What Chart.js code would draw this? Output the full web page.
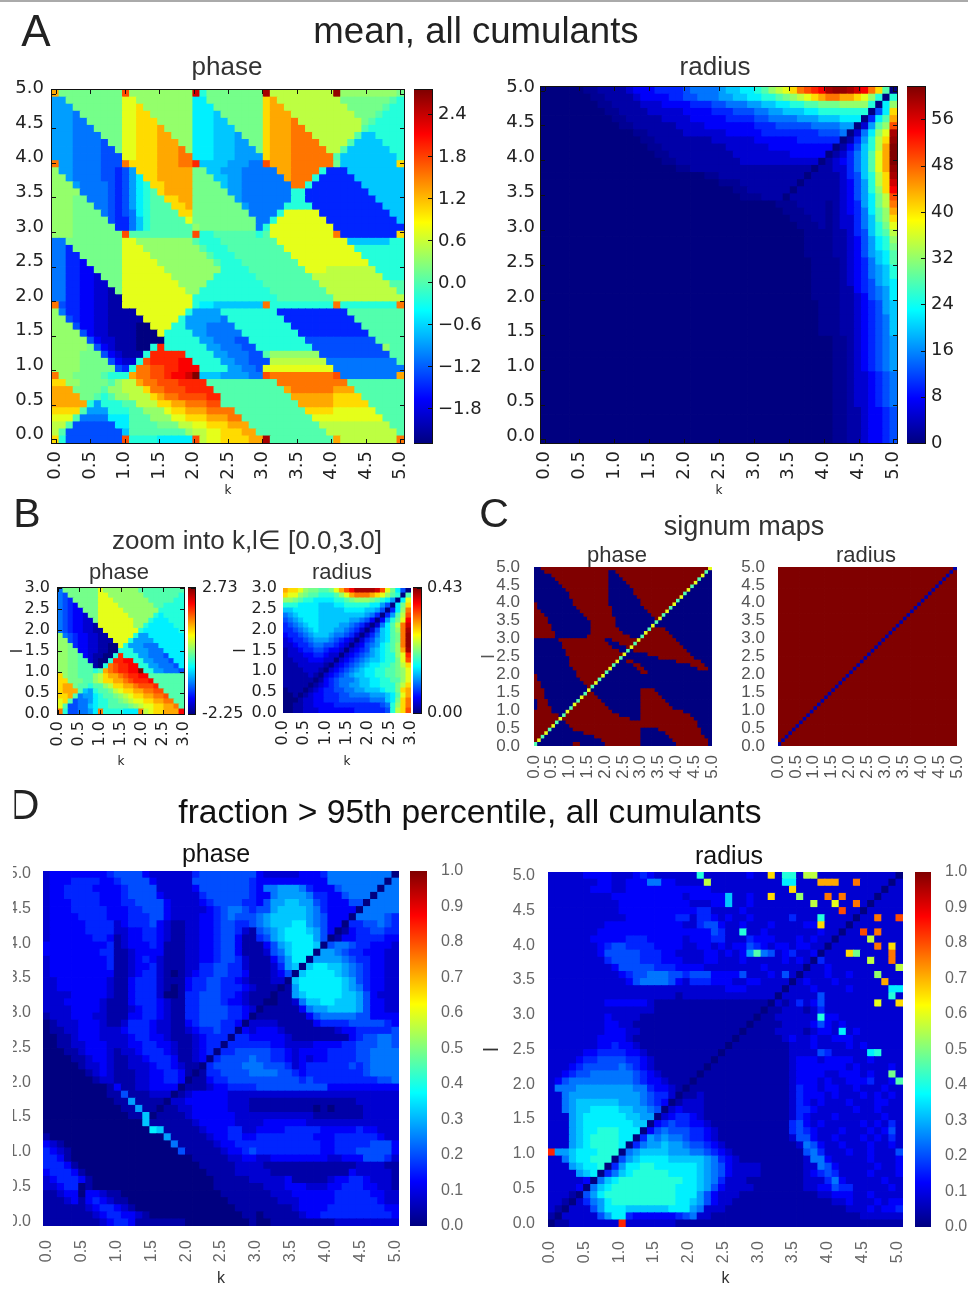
<!DOCTYPE html>
<html>
<head>
<meta charset="utf-8">
<title>mean and fraction maps</title>
<script src="https://cdn.jsdelivr.net/npm/chart.js@4"></script>
<style>
    html, body { margin: 0; padding: 0; background: #fff; overflow: hidden; }
    #page { position: relative; width: 968px; height: 1290px; overflow: hidden; filter: blur(0.45px); }
    #page canvas { position: absolute; }
    .txt { position: absolute; line-height: 1; white-space: nowrap; font-family: "Liberation Sans", sans-serif; color: #222; }
    #topline { position: absolute; left: 0; top: 0; width: 968px; height: 2px; background: #aaa; }
</style>
</head>
<body>
<div id="page"><div id="topline"></div></div>
<script>
// every row is one line of cells from l=max down to l=0, one letter per cell, a = lowest .. z = highest
const meanPhaseRows = [
"rmmmmmmmmm tnnnnnnnnn wkmmmmmmmm xooooooooo ynnnnnnnnm",
"hhmmmmmmmm ppnnnnnnnn jjmmmmmmmm qroooooooo ommmmmmmlk",
"hhhmmmmmmm ppqnnnnnnn jjjmmmmmmm qrrooooooo oommmmmlkk",
"hhhgmmmmmm ppqqnnnnnn jjjimmmmmm qrrroooooo ooommmlkkk",
"hhhggmmmmm ppqqqnnnnn jjjiimmmmm qrrrsooooo oooomlkkkk",
"hhhgggmmmm ppqqqrnnnn jjjiiimmmm qrrrssoooo oooolkkkkk",
"hhhggggmmm ppqqqrrnnn jjjiiihmmm qrrrsssooo oooliikkkk",
"hhhggggfmm ppqqqrrrnn jjjiiihhmm qrrrssssoo ooliiiikkk",
"hhhggggffm ppqqqrrrsn jjjiiihhhm qrrrssssso oliiiiiikk",
"hhhggggfff ppqqqrrrss jjjiiihhhh qrrrssssss liiiiiiiik",
"shhggggfff sqqqqrrrss uiiiihhhgg trrrssssss miiiiiiiiq",
"nhhggggffe fhqqqrrrrr mmiihhhggg ggrrsssske eeiiiiiiii",
"nnhggggffe fhjqqrrrrr mmmiihhggg gggrssskee eeeiiiiiii",
"nnnhggggfe fhjkqqrrrr mmmmihhggg ggggsskeee eeeeiiiiii",
"nnnnggggfe fhjklqrrrr mmmmmhhggg ggggkkeeee eeeeeiiiii",
"nnnmmgggfe fhjkllqqrr mmmmmmhggg ggggkkeeee eeeeeeiiii",
"nnnmmmggfe fhjklllqqr mmmmmmmhgg gggkkkkeee eeeeeeeiii",
"nnnmmmmgfe fgjkllllqq mmmmmmmmgg ggkpppppee eeeeeeeeii",
"nnnmmmmmfe egiklllllp mmmmmmmmmg gkpppppppe eeeeeeeeei",
"nnnmmmmmme egikllllll nmmmmmmmmg kppppppppp eeeeeeeeee",
"nnnmmmmmmm tlllllllll tkkllllllk lppppppppp seeeeeeeeq",
"ggmmmmmmmm ppnnnnnnnn lkkkllllll llpppppppp ppiiiiiikk",
"ggemmmmmmm pppnnnnnnn nlkkklllll lllppppppp pppkkkkkkk",
"ggeemmmmmm ppppnnnnnn nnlkkkllll llllpppppp ppppkkkkkk",
"ggeedmmmmm pppppnnnnn nnnlkkklll lllllppppp pppppkkkkk",
"ggeeddmmmm ppppppnnnn nnnnkkkkll llllllpppo ooooookkkk",
"ggeeddcmmm pppppppnnn nnnkkkkkkl lllllllooo oooooookkk",
"ggeeddccmm ppppppppnn nnkkkkkkkk lllllllloo ooooooooll",
"ggeeddccbm pppppppppn nkkkkkkkkk kllllllllo oooooooool",
"ggeeddccbb pppppppppp kkkkkkkkkk kkllllllll oooooooooo",
"sfeeddccbb pppppppppp kjjiiiiiii skkkkkkkkk skkkkkkkks",
"ngeeddccbb bbpppppppk hhhhkkkkkk kkeeeeeeee eellllllll",
"nnfeddccbb bbbpppppkh hhhhgkkkkk kkkeeeeeee eeelllllll",
"nnnfddccbb bbaapppkkh hhggggkkkk kkkkeeeeee eeeellllll",
"nnnnfdccbb bbaaapkkkk hhgggggkkk kkkkkeeeee eeeeelllll",
"nnnnnfdccb bbaaaakkkk khhgggffkk kkkkkkffff ffffffllll",
"nnnnnmfdcb bbaakukkkk kkhhgggffk kkkkkkkfff fffffffnll",
"nnnnmmmfdc bbbkuuuuuk kkkhhgggff lnnnnnnnff ffffffffll",
"nnnnmmmmfd ccktuuuuvv kkkkhhggff foooooooog gggggggggl",
"nnnnmmmmmf ekssttuuvv vkkkkhhggf pppppppppp gggggggggg",
"snnmmmmlkk krssttuvvw ziiihhhhgg tsssssssss tggggggggr",
"qqnnmmmmln oorsstttuu uullllllll llssssssss ssllllllll",
"rrrmmmmlnn oooqsstttu uuulllllll lllrssssss rrrlllllll",
"rrrrmmlkln noooqrsstt ttuullllll llllrrrrrr qqqqllllll",
"rrrrrkhkkk lloooqqrrs ssttllllll lllllrrrrr qqqqqlllll",
"qqqqlhhhkk kllnnnpqqr rrssssllll llllllqqqq ppppppllll",
"ppplggggjj jlllnnnppq qqrrrsslll lllllllppp ppppppplll",
"oolffffffj jllllmmmoo ppqqqrrrll lllllllloo ooooooooll",
"olffffffff illlllllln ooppqqqrrl lllllllllo oooooooool",
"qkffffffff tkkkkjjjjj toppqqqqrr xlllllllll roooooooos"
];

const meanRadiusRows = [
"aaaaaaAAbb bbcdddeeee fgggghiijj klnopqstuv xyyxwvsqla",
"aaaaaaaAAb bbbcddddee ffggghhiij jkklmnopqr ssrrqpnkak",
"aaaaaaaaAA bbbbcccddd deeeffgggh hiijjkkllm mmnnnnkajn",
"aaaaaaaaaA Abbbbccccc ddddeeefff gghhiiijjk kkkkkkafjq",
"aaaaaaaaaa AAbbbbbccc cdddddeeee ffgggghhhi iijjjaejlr",
"aaaaaaaaaa aAAbbbbbbc cccddddddd eeefffffgg gghhachlnt",
"aaaaaaaaaa aaaAAbbbbb ccccccdddd deeeeeeeef ffgacgjnpx",
"aaaaaaaaaa aaaaAAbbbb bbbbcccccc ddddddeeee eeabehkoqy",
"aaaaaaaaaa aaaaaAAbbb bbbbbbcccc ccdddddddd dabdfikorz",
"aaaaaaaaaa aaaaaaAAbb bbbbbbbccc cccccddddd abcegilprz",
"aaaaaaaaaa aaaaaaaAAb bbbbbbbbcc ccccccccca bcdegilprz",
"aaaaaaaaaa aaaaaaaaaA Abbbbbbbbb bbbbbbbbab bccegilpry",
"aaaaaaaaaa aaaaaaaaaa aaaAAbbbbb bbbbbbbabb bbcefikoqx",
"aaaaaaaaaa aaaaaaaaaa aaaaaAAAbb bbbbbbabbb bbcdfhkoqw",
"aaaaaaaaaa aaaaaaaaaa aaaaaaaAAb bbbbbabbbb bbcdfhknqv",
"aaaaaaaaaa aaaaaaaaaa aaaaaaaaAA Abbbabbbbb bbcdfhjmot",
"aaaaaaaaaa aaaaaaaaaa aaaaaaaaaa aaaAAAbbbb Abcdehjmos",
"aaaaaaaaaa aaaaaaaaaa aaaaaaaaaa aaaaAAAbbb Abcdegjlnr",
"aaaaaaaaaa aaaaaaaaaa aaaaaaaaaa aaaaaAAAbb Abccegilnq",
"aaaaaaaaaa aaaaaaaaaa aaaaaaaaaa aaaaaaAAAb Abccegikmp",
"aaaaaaaaaa aaaaaaaaaa aaaaaaaaaa aaaaaaaAAA Abbcefiklo",
"aaaaaaaaaa aaaaaaaaaa aaaaaaaaaa aaaaaaaAAA Abbcdfhjkn",
"aaaaaaaaaa aaaaaaaaaa aaaaaaaaaa aaaaaaaAAA Abbcdfhjkm",
"aaaaaaaaaa aaaaaaaaaa aaaaaaaaaa aaaaaaaAAA Abbcdfhijl",
"aaaaaaaaaa aaaaaaaaaa aaaaaaaaaa aaaaaaaaAA Abcdegijl".replace("Abcdegijl", "AAbcdegijl"),
"aaaaaaaaaa aaaaaaaaaa aaaaaaaaaa aaaaaaaaAA AAbcdeghik",
"aaaaaaaaaa aaaaaaaaaa aaaaaaaaaa aaaaaaaaAA AAbcdeghik",
"aaaaaaaaaa aaaaaaaaaa aaaaaaaaaa aaaaaaaaAA AAbcdefhij",
"aaaaaaaaaa aaaaaaaaaa aaaaaaaaaa aaaaaaaaAA AAbbdefghj",
"aaaaaaaaaa aaaaaaaaaa aaaaaaaaaa aaaaaaaaAA AAbbcdfghj",
"aaaaaaaaaa aaaaaaaaaa aaaaaaaaaa aaaaaaaaaA AAbbcdefhi",
"aaaaaaaaaa aaaaaaaaaa aaaaaaaaaa aaaaaaaaaA AAbbcdefhi",
"aaaaaaaaaa aaaaaaaaaa aaaaaaaaaa aaaaaaaaaA AAbbcdefgi",
"aaaaaaaaaa aaaaaaaaaa aaaaaaaaaa aaaaaaaaaA AAbbcdefgi",
"aaaaaaaaaa aaaaaaaaaa aaaaaaaaaa aaaaaaaaaA AAbbcdefgi",
"aaaaaaaaaa aaaaaaaaaa aaaaaaaaaa aaaaaaaaaa aAAbcdefgh",
"aaaaaaaaaa aaaaaaaaaa aaaaaaaaaa aaaaaaaaaa aAAbcdefgh",
"aaaaaaaaaa aaaaaaaaaa aaaaaaaaaa aaaaaaaaaa aAAbcdefgh",
"aaaaaaaaaa aaaaaaaaaa aaaaaaaaaa aaaaaaaaaa aAAbcdefgh",
"aaaaaaaaaa aaaaaaaaaa aaaaaaaaaa aaaaaaaaaa aAAbcdefgh",
"aaaaaaaaaa aaaaaaaaaa aaaaaaaaaa aaaaaaaaaa aAAbccdefg",
"aaaaaaaaaa aaaaaaaaaa aaaaaaaaaa aaaaaaaaaa aAAbccdefg",
"aaaaaaaaaa aaaaaaaaaa aaaaaaaaaa aaaaaaaaaa aAAbccdefg",
"aaaaaaaaaa aaaaaaaaaa aaaaaaaaaa aaaaaaaaaa aAAbccdefg",
"aaaaaaaaaa aaaaaaaaaa aaaaaaaaaa aaaaaaaaaa aAAbccdefg",
"aaaaaaaaaa aaaaaaaaaa aaaaaaaaaa aaaaaaaaaa aAAbbcddef",
"aaaaaaaaaa aaaaaaaaaa aaaaaaaaaa aaaaaaaaaa aAAbbcddef",
"aaaaaaaaaa aaaaaaaaaa aaaaaaaaaa aaaaaaaaaa aAAbbcddef",
"aaaaaaaaaa aaaaaaaaaa aaaaaaaaaa aaaaaaaaaa aAAbbcddef",
"aaaaaaaaaa aaaaaaaaaa aaaaaaaaaa aaaaaaaaaa aAAbbcddef"
];

const zoomPhaseRows = [
"gmmmmmmmpnnnnnnnlllllllll",
"gfmmmmmmppnnnnnnnlllllllk",
"gfemmmmmpppnnnnnnnlllllkk",
"gfedmmmmppppnnnnnnnllkkkk",
"gfeddmmmpppppnnnnnnnkkkkk",
"gfeddcmmppppppnnnnnkjkkkk",
"gfeddccmpppppppnnnkjjjkkk",
"gfeddccbpppppppnnkjjjjjkk",
"gfeddccbbpppppppkjjjjjjjk",
"ngfeddccbbpppppkhhjjjjjjj",
"nnfeddccbbbpppkhhhhjjjjjj",
"nnmeddccbbaapkhhhgggjjjjj",
"nnmmddccbbaakkkhhhgggjjjj",
"nnmmldcbbaakukkkhhgggfjjj",
"nnmmllcbaakuuvvkkhhgggfjj",
"nnmmlllbakstuuvvkkhhgggfj",
"nnmmlllklrstuuvvzkkhhgggf",
"qnmmlllnoqrrstuuvvlllllll",
"qqmmmllnoqqrrstuuuvllllll",
"qrrmllkllnoqqrrstttulllll",
"qrrrlihkllmopqqrrssttllll",
"qqrlghhjkllmnopqqrrsstlll",
"pqlfgghjkkllmnoppqqrrssll",
"plffggijkkllllmnoppqqrrsl",
"skffgghjskkkkjjjsopqqrrrv"
];

const zoomRadiusRows = [
"rqqpnmmllmprtvxxxxwtpmjfa",
"qppnmllkkklnprsssrqpnlkal",
"nnmlkkjjjjkklmnnnmlkjhajp",
"kkkjjjjiiijjkkkkkjjhfajmq",
"iijjjjjiiiiijjjjiihfaejns",
"ghijjjjiiiiiiiiihgeaehlot",
"fghijjjiiiiiihhgfdadhkmpv",
"efghijjiiiihhgfecacgjlosw",
"eefghijiiihhgfecacfijlnsx",
"deefghiiihggfecacegijlmsy",
"cdeefghhhgfedcacefhijlmsy",
"ccdeefggffedcacdfghjklnsy",
"bccdeeffeddcacdefhijklnrx",
"bcccddeedccacdefghijkknpu",
"bbcccdddccacdefghiijkkmpt",
"bbbcccccbacdefghijjkklmoq",
"bbbbcccbacdefghijjkkllmnp",
"bbbbbcbacdefghiijjkkllmnp",
"bbbbbbabdefggghiijjkkllnp",
"bbbbbabcdefgghhiijjkkkmoq",
"abbbabcdeeffgghhiiijkkmqr",
"aababcddeeeffgggghhhijlpr",
"aaabccddeeeffffffgggijmqs",
"aabbccddddeeeeeeeeefgknqs",
"aabbcccdddddddeeeeeefkoqt"
];

const signPhaseRows = [
"aazzzzzzzz zzzzzzzzzz zzzzzzzzzz zzzzzzzzzz zzzzzzzzzp",
"aaazzzzzzz zzzzzzzzzz zaazzzzzzz zzzzzzzzzz zzzzzzzzla",
"aaaaazzzzz zzzzzzzzzz zaaazzzzzz zzzzzzzzzz zzzzzzzpaa",
"aaaaaazzzz zzzzzzzzzz zaaaazzzzz zzzzzzzzzz zzzzzzlaaa",
"aaaaaaazzz zzzzzzzzzz zaaaaazzzz zzzzzzzzzz zzzzzpaaaa",
"aaaaaaaazz zzzzzzzzzz zaaaaaazzz zzzzzzzzzz zzzzlaaaaa",
"aaaaaaaaaz zzzzzzzzzz zaaaaaaazz zzzzzzzzzz zzzpaaaaaa",
"aaaaaaaaaa zzzzzzzzzz zaaaaaaazz zzzzzzzzzz zzlaaaaaaa",
"aaaaaaaaaa zzzzzzzzzz zaaaaaaaaz zzzzzzzzzz zpaaaaaaaa",
"aaaaaaaaaa azzzzzzzzz zaaaaaaaaa zzzzzzzzzz laaaaaaaaa",
"zaaaaaaaaa azzzzzzzzz zaaaaaaaaa zzzzzzzzzp aaaaaaaaaa",
"zaaaaaaaaa aazzzzzzzz zzaaaaaaaa azzzzzzzla aaaaaaaaaa",
"zzaaaaaaaa aaazzzzzzz zzaaaaaaaa aazzzzzpaa aaaaaaaaaa",
"zzzaaaaaaa aaaazzzzzz zzaaaaaaaa aaazzzlaaa aaaaaaaaaa",
"zzzzaaaaaa aaaaazzzzz zzzaaaaaaa aaaazpaaaa aaaaaaaaaa",
"zzzzaaaaaa aaaaaazzzz zzzaaaaaaa aaaalaaaaa aaaaaaaaaa",
"zzzzzaaaaa aaaaaazzzz zzzaaaaaaa aaapaaaaaa aaaaaaaaaa",
"zzzzzaaaaa aaaaaazzzz zzzzaaaaaa aalzzzzaaa aaaaaaaaaa",
"zzzzzzaaaa aaaaaazzzz zzzzzaaaaa apzzzzzzaa aaaaaaaaaa",
"zzzzzzaaaa aaaaazzzzz zzzzzzzaaa lzzzzzzzza aaaaaaaaaa",
"aaaaaaazzz zzzzzzzzzz aazzzzzzzp zzzzzzzzzz aaaaaaaaaa",
"aaaaaaaazz zzzzzzzzzz zaaazzzzlz zzzzzzzzzz zaaaaaaaaa",
"aaaaaaaazz zzzzzzzzzz zzaaaazpzz zzzzzzzzzz zzaaaaaaaa",
"aaaaaaaaaz zzzzzzzzzz zzzzaalazz zzzzzzzzzz zzzaaaaaaa",
"aaaaaaaaaz zzzzzzzzzz zzzzzpaaaa aazzzzzzzz zzzzaaaaaa",
"aaaaaaaaaa zzzzzzzzzz zzzzlaaaaa aaaaazzzzz zzzzzaaaaa",
"aaaaaaaaaa zzzzzzzzzz zzzpaazzaa aaaaaaaaaa zzzzzzzaaa",
"aaaaaaaaaa zzzzzzzzzz zzlaaaaazz aaaaaaaaaa aaaazzzzaa",
"aaaaaaaaaa azzzzzzzzz zpaaaaaaaz zaaaaaaaaa aaaaaazzza",
"aaaaaaaaaa aazzzzzzzz laaaaaaaaa zzaaaaaaaa aaaaaaaaaa",
"zaaaaaaaaa aazzzzzzzp aaaaaaaaaa aaaaaaaaaa aaaaaaaaaa",
"zaaaaaaaaa aaazzzzzla aaaaaaaaaa aaaaaaaaaa aaaaaaaaaa",
"zzaaaaaaaa aaaazzzpaa aaaaaaaaaa aaaaaaaaaa aaaaaaaaaa",
"zzaaaaaaaa aaaaazlaaa aaaaaaaaaa aaaaaaaaaa aaaaaaaaaa",
"zzzaaaaaaa aaaaapaaaa aaaaaaaaaa zzzzaaaaaa aaaaaaaaaa",
"zzzaaaaaaa aaaalzzaaa aaaaaaaaaa zzzzzaaaaa aaaaaaaaaa",
"zzzaaaaaaa aaapzzzzaa aaaaaaaaaa zzzzzzaaaa aaaaaaaaaa",
"azzzaaaaaa aalzzzzzza aaaaaaaaaa zzzzzzzaaa aaaaaaaaaa",
"azzzaaaaaa apzzzzzzzz aaaaaaaaaa zzzzzzzzaa aaaaaaaaaa",
"azzzzaaaaa lzzzzzzzzz zaaaaaaaaa zzzzzzzzza aaaaaaaaaa",
"zzzzzaaaap zzzzzzzzzz zzaaaaaaaa zzzzzzzzzz zzaaaaaaaa",
"zzzzzzzalz zzzzzzzzzz zzzzaaaaaa zzzzzzzzzz zzzzaaaaaa",
"zzzzzzzpzz zzzzzzzzzz zzzzzzzaaa zzzzzzzzzz zzzzzaaaaa",
"zzzzzzlaaz zzzzzzzzzz zzzzzzzzzz zzzzzzzzzz zzzzzzaaaa",
"zzzzzpaaaa zzzzzzzzzz zzzzzzzzzz zzzzzzzzzz zzzzzzaaaa",
"zzzzlaaaaa azzzzzzzzz zzzzzzzzzz aaaaazzzzz zzzzzzzaaa",
"zzzpaaaaaa aaaazzzzzz zzzzzzzzzz aaaaaaazzz zzzzzzzaaa",
"zzlaaaaaaa aaaaaaazzz zzzzzzzzzz aaaaaaaazz zzzzzzzzaa",
"zpaaaaaaaa aaaaaaaaaz zzzzzzzzzz aaaaaaaaaz zzzzzzzzza",
"laaaaaaaaa azzaaaaaaa zzzzzzzzzz aaaaaaaaaa zzzzzzzzza"
];

const signRadiusRows = [
"zzzzzzzzzz zzzzzzzzzz zzzzzzzzzz zzzzzzzzzz zzzzzzzzzb",
"zzzzzzzzzz zzzzzzzzzz zzzzzzzzzz zzzzzzzzzz zzzzzzzzbz",
"zzzzzzzzzz zzzzzzzzzz zzzzzzzzzz zzzzzzzzzz zzzzzzzbzz",
"zzzzzzzzzz zzzzzzzzzz zzzzzzzzzz zzzzzzzzzz zzzzzzbzzz",
"zzzzzzzzzz zzzzzzzzzz zzzzzzzzzz zzzzzzzzzz zzzzzbzzzz",
"zzzzzzzzzz zzzzzzzzzz zzzzzzzzzz zzzzzzzzzz zzzzbzzzzz",
"zzzzzzzzzz zzzzzzzzzz zzzzzzzzzz zzzzzzzzzz zzzbzzzzzz",
"zzzzzzzzzz zzzzzzzzzz zzzzzzzzzz zzzzzzzzzz zzbzzzzzzz",
"zzzzzzzzzz zzzzzzzzzz zzzzzzzzzz zzzzzzzzzz zbzzzzzzzz",
"zzzzzzzzzz zzzzzzzzzz zzzzzzzzzz zzzzzzzzzz bzzzzzzzzz",
"zzzzzzzzzz zzzzzzzzzz zzzzzzzzzz zzzzzzzzzb zzzzzzzzzz",
"zzzzzzzzzz zzzzzzzzzz zzzzzzzzzz zzzzzzzzbz zzzzzzzzzz",
"zzzzzzzzzz zzzzzzzzzz zzzzzzzzzz zzzzzzzbzz zzzzzzzzzz",
"zzzzzzzzzz zzzzzzzzzz zzzzzzzzzz zzzzzzbzzz zzzzzzzzzz",
"zzzzzzzzzz zzzzzzzzzz zzzzzzzzzz zzzzzbzzzz zzzzzzzzzz",
"zzzzzzzzzz zzzzzzzzzz zzzzzzzzzz zzzzbzzzzz zzzzzzzzzz",
"zzzzzzzzzz zzzzzzzzzz zzzzzzzzzz zzzbzzzzzz zzzzzzzzzz",
"zzzzzzzzzz zzzzzzzzzz zzzzzzzzzz zzbzzzzzzz zzzzzzzzzz",
"zzzzzzzzzz zzzzzzzzzz zzzzzzzzzz zbzzzzzzzz zzzzzzzzzz",
"zzzzzzzzzz zzzzzzzzzz zzzzzzzzzz bzzzzzzzzz zzzzzzzzzz",
"zzzzzzzzzz zzzzzzzzzz zzzzzzzzzb zzzzzzzzzz zzzzzzzzzz",
"zzzzzzzzzz zzzzzzzzzz zzzzzzzzbz zzzzzzzzzz zzzzzzzzzz",
"zzzzzzzzzz zzzzzzzzzz zzzzzzzbzz zzzzzzzzzz zzzzzzzzzz",
"zzzzzzzzzz zzzzzzzzzz zzzzzzbzzz zzzzzzzzzz zzzzzzzzzz",
"zzzzzzzzzz zzzzzzzzzz zzzzzbzzzz zzzzzzzzzz zzzzzzzzzz",
"zzzzzzzzzz zzzzzzzzzz zzzzbzzzzz zzzzzzzzzz zzzzzzzzzz",
"zzzzzzzzzz zzzzzzzzzz zzzbzzzzzz zzzzzzzzzz zzzzzzzzzz",
"zzzzzzzzzz zzzzzzzzzz zzbzzzzzzz zzzzzzzzzz zzzzzzzzzz",
"zzzzzzzzzz zzzzzzzzzz zbzzzzzzzz zzzzzzzzzz zzzzzzzzzz",
"zzzzzzzzzz zzzzzzzzzz bzzzzzzzzz zzzzzzzzzz zzzzzzzzzz",
"zzzzzzzzzz zzzzzzzzzb zzzzzzzzzz zzzzzzzzzz zzzzzzzzzz",
"zzzzzzzzzz zzzzzzzzbz zzzzzzzzzz zzzzzzzzzz zzzzzzzzzz",
"zzzzzzzzzz zzzzzzzbzz zzzzzzzzzz zzzzzzzzzz zzzzzzzzzz",
"zzzzzzzzzz zzzzzzbzzz zzzzzzzzzz zzzzzzzzzz zzzzzzzzzz",
"zzzzzzzzzz zzzzzbzzzz zzzzzzzzzz zzzzzzzzzz zzzzzzzzzz",
"zzzzzzzzzz zzzzbzzzzz zzzzzzzzzz zzzzzzzzzz zzzzzzzzzz",
"zzzzzzzzzz zzzbzzzzzz zzzzzzzzzz zzzzzzzzzz zzzzzzzzzz",
"zzzzzzzzzz zzbzzzzzzz zzzzzzzzzz zzzzzzzzzz zzzzzzzzzz",
"zzzzzzzzzz zbzzzzzzzz zzzzzzzzzz zzzzzzzzzz zzzzzzzzzz",
"zzzzzzzzzz bzzzzzzzzz zzzzzzzzzz zzzzzzzzzz zzzzzzzzzz",
"zzzzzzzzzb zzzzzzzzzz zzzzzzzzzz zzzzzzzzzz zzzzzzzzzz",
"zzzzzzzzbz zzzzzzzzzz zzzzzzzzzz zzzzzzzzzz zzzzzzzzzz",
"zzzzzzzbzz zzzzzzzzzz zzzzzzzzzz zzzzzzzzzz zzzzzzzzzz",
"zzzzzzbzzz zzzzzzzzzz zzzzzzzzzz zzzzzzzzzz zzzzzzzzzz",
"zzzzzbzzzz zzzzzzzzzz zzzzzzzzzz zzzzzzzzzz zzzzzzzzzz",
"zzzzbzzzzz zzzzzzzzzz zzzzzzzzzz zzzzzzzzzz zzzzzzzzzz",
"zzzbzzzzzz zzzzzzzzzz zzzzzzzzzz zzzzzzzzzz zzzzzzzzzz",
"zzbzzzzzzz zzzzzzzzzz zzzzzzzzzz zzzzzzzzzz zzzzzzzzzz",
"zbzzzzzzzz zzzzzzzzzz zzzzzzzzzz zzzzzzzzzz zzzzzzzzzz",
"bzzzzzzzzz zzzzzzzzzz zzzzzzzzzz zzzzzzzzzz zzzzzzzzzz"
];

const fractionPhaseRows = [
"cdddddddde ffffdccccc ceffffffff dcccccddde ggggggggga",
"cdddeeeedd effffdcccc cffffffffe dddddddddd ggggggggag",
"cddeeeeddd deffffcccc cdfffffffe dgghhhgedd dfgggggagg",
"cddeeeeedd deffffdccc cceffffffe ddghhhhgee ddfgggaggg",
"cdddeeeedd deeffffdcc ccdeffffee dfhhiihhfe dddffagggg",
"cdddeeeeed ddeefffdcc cccdefggfe ffhiiiihge ddddaggggg",
"cddddeeeed ddeeeffdcc ccddefgfff ghiiiiihgf dddaggggfe",
"cdddddeeee cdeeefdcbb ccddeffeef ghiiijjhgf ddaeeffgfe",
"cdddddeeee ccddeedcbb ccddeffecb fghijjjihf dabdeeffee",
"cddddddeed bcddeedcbb ccddeffdbb efhijjjjhf abddeeeedd",
"ddddddddde bcdddedbbb ccddeffdbb bdfhijjjia fggfeedddc",
"ddddddddee bbcddddbbb ccddeffdbb bcfgijjjah hgfeedddcc",
"cdddddddde bbcdedcbbb ccddeffecb bbdfhjjahh hhgfeeddcc",
"cdddddddde bbcddecbbb cceeffeecb bbcehiaijj iihgfeddcc",
"cddddddddd bbcdeecbab cdeeffeedb bbcdfaijjj jihgfeddcc",
"ccdddddddc bbdeeecbbb deeffeedcb bbccaijjjj jjihfeddcc",
"ccdddddddc bbdeeecbab deeffeeedc bbbabhjjjj jjihgeddcc",
"ccccdddddc bbdeeecaab eefffeedcb bbabbhijjj jjiihfdccc",
"cccdddddcb bbdeeedcbb eefffeddcb baabbcgiij jiiihfddcc",
"ccccddddcb bbcdeedcbb eeffffeedc abbbbbdghh iiiihfddcc",
"bcccdddccb bbddeedcbb eeffffeeda bbbbbbbdfg ggggffdddd",
"abcccdddcb bceeedccbb defffeedac cccbbbbbde eeefffffed",
"abbccdddcc cdeeedccbb cdeefeeadc dddcbbbbbb bcddeeeeef",
"aabbcdddcc ccdeeddcbb bcdeeeaeed ddddcbbbbb bbbdeffggf",
"aabbccdddc ccddeeddcb bcdeeaeeee eeddccccdd ddeefffggf",
"aaabbcdddc bccdeeedcb bcdeaeefff ffeedcdddd eeeeffgggg",
"aaaabbcddc bbccdeeedb bcdaeffffg ffeedcdcdd eeeeffgggg",
"aaaaabccdc bbcccdeedc bbaeffffgg gfffecdeee eeefefgggg",
"aaaaaabcdc bbbccddeed babeeffffg gggffedeee eeeeefgggg",
"aaaaaaabcc bbbccddeed abbdeeffff ffffffefee eeeeeeeffg",
"aaaaaaaaab dbbccdddda bbbcddeeee ffffffffff dddddddddd",
"aaaaaaaaab bfbbbcccab cdddddcccc cccccccccc cccccccccc",
"aaaaaaaaaa bbhbbbbacc ddddddcccb bbbbbbbbbb bbbbcccccc",
"aaaaaaaaaa abbhbbabbc cdddddcccb bbbbbbbbab abbbbccccc",
"aaaaaaaaaa aabbiabbbb cddddddccc ccccccccbb bbbbbccccc",
"aaaaaaaaaa aaaaibbbbb bcdddddccc cddddddccc cccccccccc",
"aaaaaaaaaa aaaaajibbb bbcdddeecc ddddeeeeed ddddeddccc",
"baaaaaaaaa aaaaaaahbb bbbcddeedd eeeeeeeedd deeeeeedcc",
"dcbaaaaaaa aaaaaaaagb bbbbcddeee eeeeeeeeed deeeeefffd",
"edcbaaaaaa aaaaaaaaaf bbbbbcddef eeeeeeeeed deeefffffd",
"eedbaaaaaa aaaaaaaaaa abbbbbccdd ccdddddddd ccdddfffec",
"eeedbaaaaa aaaaaaaaaa aabbbbbccc cbbbbbbbbb bbbbccccbb",
"deeedbaaaa aaaaaaaaaa aaabbbbccc ccbbbbbbbb bbbdcccccb",
"cdeeedbaaa aaaaaaaaaa aaaabbbbbc ccccdbbbbb cddeedcccb",
"ccdeeabaaa aaaaaaaaaa aaaabbbbbb bcccdddccc ddeeeddccb",
"bbcddaddcb baaaaaaaaa aaaaabbbbb bbcccddddd deeeeeddcc",
"bbbcdbdedc bbaaaaaaaa aaaaaabbbb bbbcccdddd deeeeeedcc",
"bbbbbbcdee dcbaaaaaaa aaaaaaabbb bbbbbcdddd eeeeeeeedd",
"bbbbbbbcde eddcbaaaaa aaaaaaaabb abbbbbcdde eeeeeeeeed",
"bbbbbbbbcd eedbbbbbbb aaaaaaaaab aabbbbbbbb bccccccccc"
];

const fractionRadiusRows = [
"cccccddddc ccdedccccc ckccccccdc cqckkcoocc ccccccccca",
"cccccccddc cdddggddcc ccoccccccc cccjjcccrr rccsccccac",
"ccccccdddc cddddddddd dddccccccc ccccqccccc cccccccacc",
"cccccccccd dddddddddc dddddiccdc cqcccncccs csccccaccc",
"cccccccccc dddddddddd cccddiccdc cccccccocc pccscacccc",
"cccccccccc dddddddddd deeccccdcc cccccccccc ctccaccccc",
"cccccccccc cdddddddee ceedcdccdc cccceccckc cccaccscct",
"ccccccccdd dddddddddc ceffdccdcc cdccccddqc ccaccccccc",
"cccccccddd dddddddddd dddfecckcc dcccccccdc cacctcsccc",
"ccccccdddd deeedddddc dddeeccced ddcccdcdcc accccocccc",
"cccccccdef feeeeddddc cddcdcddfe dcddcddcca ccccccscqc",
"cccccccdff fffeeeddcc ccddcdcdhl gfcdeccdac ccqmccccsc",
"ccccccccef fffeeedddc ccddcccdcc cccdcdcaec cccccoccsc",
"cccccccccd fffffeeedd ddcccccccc dcccccaccd ccccccccco",
"cccccccccc deffgggffe fffddddfcc cdcfcacccd ccdcccnccc",
"cccccccccc cdfggggfdc eeedddccdd ccccacdccc dccccccrcc",
"cccccccccc cccccccccc cccccdddcc cccacccdcc ccdcccccjj",
"cccccccccc ccccccccbc cccccccccc ccacccccfc cccccccckc",
"ccccccccdd ddddcbbbbb bbbbbbbbbb bacbcecdfc ccccccpccq",
"cccccccccc cccccbbbbb bbbbbbbbbb abbcccbcec cccccccccc",
"ccccccccdc cccbbbbbbb bbbbbbbbba bbcccccckd dccccccccc",
"ccccccccdd ccbbbbbbbb bbbbbbbbab bbbccccdfd cdcccccccc",
"ccccccccdd dccbbbbbbb bbbbbbbabb bbccccbcdd cjcdcccccc",
"cccccccddd dcbbbbbbbb bbbbbbabbb bbbcdccdcc dddccccccc",
"cccccccdde ddcbbbbbbb bbbbbabbbb bbbbcccdcc ccdcdccccc",
"cccccddeee eddcbbbbbb bbbbabbbbb bbbbccccfe cccccjkccc",
"ccccdeefff feedcbbbbb bbbabbbbbb bbbbcdddcd dddccdcccc",
"cccdefffff gfedcbbbbb bbabbbbbbb bbbbcddddd ddcdccccdc",
"ccdeffgggg ggfedcbbbb babbbbbbbb bbbbcddddc cdddcdccmc",
"cdfggggggg ggfeddcbbb abbbbbbbbb bbbbcdddcd ccdddeccdl",
"cggghhhhhh hhggeddcba bbbbbbbbbb bbbbceddcd dccdcccdcc",
"ccghhhhhhh hhhgfeecab bcbbbbbbbb bbbbcedddc dcccdcdcdc",
"ccghiiiiii hhhgfedabc ccbbbbbbbb bbbbcedcdc ccdcccddcc",
"ccghiijjjj iihhgfacdc ccbbbbbbbb bbbbceedcc cccdccdccc",
"ccchijjjjj jiihhacdee dcbbbbbbbb bbbbcedccc dccccccdcc",
"ccchijjjjj jjiiadefee ddcbbbbbbb bbbbefdcdc ccccdcdcec",
"ccchijjkkk jjjadfgfff eedcbbbbbb bbbbefedcc cdcccdcdfc",
"ccchijkkkk jjaehghggf eedcbbbbbb bbbbcffdcc dcccdcdcec",
"ccchijkkkk jaeghhihhg ffedcbbbbb bbbbbcgfdc cdcccdccdc",
"uhhijjjkkk aghiiiihhh ggfedcbbbb bbbbbbfgec ccdccdcccf",
"ccgijjkkka fhijjjjiii iihgedcbbb bbbbbbcggd cccccdcccd",
"ccchijjkae hjjkkjjjjj jihgfdcccc bbbbbbccgf dcccccdccd",
"cccchijaeg ijkkkkkjjj jihgfdcccc bbbbbbcdef eccccdcccd",
"cccccdagij kkkkkkkkkj jihgecccbb bbbbbbccce gdcccccdcc",
"ccccdagijk kkkkkkkkjj jihfdccccb bbbbbbccdd feecccccdc",
"cccbafhjkk kkkkkkkkjj jhfdcccbbb bbbbbbbbcc dddccdcccc",
"ccbaceghjk kkkkkkkkjj ihfdccbbbb bbbbbbbbbb ccdcccdcdd",
"cbacccfhjj jiiiiiijjj hgcccbbbbb bbbbbbbbbb bbcccdcdde",
"bacccccfhj jeddddddef gccbbbbbbb bbbbbbbbbb bbbbcccccc",
"abbccccccc ucccccccbb bbbbbbbbbb bbbbbbbbbb bbbbbbbbbb"
];

const ticksFive = [0, 0.5, 1, 1.5, 2, 2.5, 3, 3.5, 4, 4.5, 5];
const ticksThree = [0, 0.5, 1, 1.5, 2, 2.5, 3];
const barTicksMeanPhase = [-1.8, -1.2, -0.6, 0, 0.6, 1.2, 1.8, 2.4];
const barTicksMeanRadius = [0, 8, 16, 24, 32, 40, 48, 56];
const barTicksZoomPhase = [-2.25, 2.73];
const barTicksZoomRadius = [0, 0.43];
const barTicksFraction = [0, 0.1, 0.2, 0.3, 0.4, 0.5, 0.6, 0.7, 0.8, 0.9, 1];

// what each letter stands for, as a fraction of the colour range
const letterFractions = { A: 0.02 };
"abcdefghijklmno".split("").forEach((ch, i) => {
    letterFractions[ch] = [0, 0.04, 0.08, 0.12, 0.16, 0.2, 0.24, 0.28, 0.32, 0.36, 0.41, 0.455, 0.49, 0.52, 0.56][i];
});
"pqrstuvwxyz".split("").forEach((ch, i) => {
    letterFractions[ch] = [0.6, 0.66, 0.71, 0.76, 0.8, 0.84, 0.88, 0.92, 0.96, 0.98, 1][i];
});

const DEJAVU = "'DejaVu Sans', sans-serif";
const LIBERATION = "'Liberation Sans', sans-serif";
const PAD = 12;
const page = document.getElementById("page");

function jet(t) {
    const c = v => Math.round(255 * Math.max(0, Math.min(1, v)));
    const r = c(Math.min(4 * t - 1.5, -4 * t + 4.5));
    const g = c(Math.min(4 * t - 0.5, -4 * t + 3.5));
    const b = c(Math.min(4 * t + 0.5, -4 * t + 2.5));
    return `rgb(${r},${g},${b})`;
}

// inward ticks and box of the matplotlib style panels
const framePlugin = {
    id: "frame",
    afterDraw(chart, args, opts) {
        if (!opts.sides) return;
        const { ctx, chartArea: a, scales } = chart;
        ctx.save();
        ctx.strokeStyle = "#111";
        ctx.lineWidth = 1;
        ctx.strokeRect(a.left - 0.5, a.top - 0.5, a.right - a.left + 1, a.bottom - a.top + 1);
        ctx.beginPath();
        scales.y.ticks.forEach(t => {
            const y = Math.round(scales.y.getPixelForValue(t.value)) + 0.5;
            if (opts.sides.includes("left")) { ctx.moveTo(a.left, y); ctx.lineTo(a.left + 4, y); }
            if (opts.sides.includes("right")) { ctx.moveTo(a.right, y); ctx.lineTo(a.right - 4, y); }
        });
        if (opts.sides.includes("bottom")) {
            scales.x.ticks.forEach(t => {
                const x = Math.round(scales.x.getPixelForValue(t.value)) + 0.5;
                ctx.moveTo(x, a.bottom); ctx.lineTo(x, a.bottom - 4);
                ctx.moveTo(x, a.top); ctx.lineTo(x, a.top + 4);
            });
        }
        ctx.stroke();
        ctx.restore();
    }
};

function addCanvas(left, top, width, height) {
    const canvas = document.createElement("canvas");
    canvas.width = width;
    canvas.height = height;
    canvas.style.left = left + "px";
    canvas.style.top = top + "px";
    canvas.style.width = width + "px";
    canvas.style.height = height + "px";
    page.appendChild(canvas);
    return canvas;
}

// halfCell: the k,l ticks sit on cell centres, so the axis runs half a cell past both ends
function rowsToPoints(rows, max, halfCell, lo, hi) {
    const points = [];
    const clean = rows.map(r => r.replace(/ /g, ""));
    const n = clean.length;
    const span = max + 2 * halfCell;
    clean.forEach((row, r) => {
        for (let c = 0; c < n; c++) {
            const ch = row[c] || row[row.length - 1];
            points.push({
                x: -halfCell + (c + 0.5) / n * span,
                y: max + halfCell - (r + 0.5) / n * span,
                v: lo + (hi - lo) * letterFractions[ch]
            });
        }
    });
    return { points, n };
}

function heatmap(rows, p) {
    const halfCell = p.halfCell || 0;
    const { points, n } = rowsToPoints(rows, p.max, halfCell, p.lo, p.hi);
    const plotW = p.x1 - p.x0;
    const plotH = p.y1 - p.y0;
    const canvas = addCanvas(p.x0 - p.axisLeft, p.y0 - PAD, p.axisLeft + plotW + PAD, PAD + plotH + p.axisBottom);
    const ticks = { font: { family: p.family, size: p.size }, color: p.color, autoSkip: false, callback: v => v.toFixed(1) };
    new Chart(canvas, {
        type: "scatter",
        data: {
            datasets: [{
                data: points,
                pointStyle: "rect",
                pointBorderWidth: 0,
                pointRadius: () => (Math.max(plotW, plotH) / n / 2 + 0.4) * Math.SQRT2,
                pointBackgroundColor: ctx => jet((ctx.raw.v - p.lo) / (p.hi - p.lo))
            }]
        },
        options: {
            responsive: false,
            animation: false,
            events: [],
            layout: { padding: { top: PAD, right: PAD } },
            plugins: { legend: { display: false }, tooltip: { enabled: false }, frame: { sides: p.frame ? ["left", "right", "bottom"] : null } },
            scales: {
                x: {
                    type: "linear",
                    min: -halfCell,
                    max: p.max + halfCell,
                    afterBuildTicks: s => { s.ticks = p.ticks.map(value => ({ value })); },
                    afterFit: s => { s.height = p.axisBottom; s.paddingLeft = 0; s.paddingRight = 0; },
                    grid: { display: false, drawTicks: false },
                    border: { display: false },
                    ticks: { ...ticks, minRotation: 90, maxRotation: 90, padding: p.padX, labelOffset: p.xShift || 0 },
                    title: { display: !!p.xTitle, text: "k", color: p.titleColor || p.color, font: { family: p.family, size: p.xTitle || 12 }, padding: { top: 0, bottom: 2 } }
                },
                y: {
                    type: "linear",
                    min: -halfCell,
                    max: p.max + halfCell,
                    afterBuildTicks: s => { s.ticks = p.ticks.map(value => ({ value })); },
                    afterFit: s => { s.width = p.axisLeft; s.paddingTop = 0; s.paddingBottom = 0; },
                    grid: { display: false, drawTicks: false },
                    border: { display: false },
                    ticks: { ...ticks, padding: p.padY, labelOffset: p.yShift || 0 },
                    title: { display: !!p.yTitle, text: "l", color: p.titleColor || p.color, font: { family: p.family, size: p.yTitle || 12 }, padding: 0 }
                }
            }
        },
        plugins: [framePlugin]
    });
}

function colorbar(p) {
    const w = p.x1 - p.x0;
    const h = p.y1 - p.y0;
    const canvas = addCanvas(p.x0, p.y0 - PAD, w + p.labelW, h + 2 * PAD);
    new Chart(canvas, {
        type: "bar",
        data: {
            labels: [""],
            datasets: [{
                data: [[p.lo, p.hi]],
                barPercentage: 1,
                categoryPercentage: 1,
                borderSkipped: false,
                backgroundColor: ctx => {
                    const a = ctx.chart.chartArea;
                    if (!a) return "#00f";
                    const g = ctx.chart.ctx.createLinearGradient(0, a.bottom, 0, a.top);
                    for (let i = 0; i <= 40; i++) g.addColorStop(i / 40, jet(i / 40));
                    return g;
                }
            }]
        },
        options: {
            responsive: false,
            animation: false,
            events: [],
            layout: { padding: { top: PAD, bottom: PAD } },
            plugins: { legend: { display: false }, tooltip: { enabled: false }, frame: { sides: p.frame ? ["right"] : null } },
            scales: {
                x: { display: false },
                y: {
                    position: "right",
                    min: p.lo,
                    max: p.hi,
                    afterBuildTicks: s => { s.ticks = p.ticks.map(value => ({ value })); },
                    afterFit: s => { s.width = p.labelW; s.paddingTop = 0; s.paddingBottom = 0; },
                    grid: { display: false, drawTicks: false },
                    border: { display: false },
                    ticks: {
                        autoSkip: false,
                        padding: p.pad,
                        labelOffset: p.shift || 0,
                        color: p.color,
                        font: { family: p.family, size: p.size },
                        callback: v => {
                            const s = v.toFixed(p.digits);
                            return p.minus ? s.replace("-", "\u2212") : s;
                        }
                    }
                }
            }
        },
        plugins: [framePlugin]
    });
}

function text(str, cx, cy, size, extra) {
    const el = document.createElement("div");
    el.className = "txt";
    el.textContent = str;
    el.style.left = cx + "px";
    el.style.top = cy + "px";
    el.style.fontSize = size + "px";
    el.style.transform = "translate(-50%,-50%)";
    Object.assign(el.style, extra || {});
    page.appendChild(el);
}

const HALF_CELL = 0.051;

// A
heatmap(meanPhaseRows, { x0: 52, y0: 90, x1: 404, y1: 443, axisLeft: 50, axisBottom: 57, max: 5, halfCell: HALF_CELL, ticks: ticksFive, lo: -2.3, hi: 2.74, family: DEJAVU, size: 18, color: "#222", padX: 8, padY: 8, yShift: -5, xTitle: 12, frame: true });
colorbar({ x0: 414, y0: 90, x1: 432, y1: 443, labelW: 60, lo: -2.3, hi: 2.74, ticks: barTicksMeanPhase, digits: 1, minus: true, family: DEJAVU, size: 18, color: "#222", pad: 6, shift: 1, frame: true });
heatmap(meanRadiusRows, { x0: 541, y0: 87, x1: 897, y1: 443, axisLeft: 50, axisBottom: 57, max: 5, halfCell: HALF_CELL, ticks: ticksFive, lo: 0, hi: 61.6, family: DEJAVU, size: 18, color: "#222", padX: 8, padY: 6, yShift: -3, xTitle: 12, frame: true });
colorbar({ x0: 907, y0: 87, x1: 925, y1: 443, labelW: 43, lo: 0, hi: 61.6, ticks: barTicksMeanRadius, digits: 0, family: DEJAVU, size: 18, color: "#222", pad: 6, frame: true });

// B
heatmap(zoomPhaseRows, { x0: 58, y0: 588, x1: 184, y1: 714, axisLeft: 50, axisBottom: 57, max: 3, ticks: ticksThree, lo: -2.25, hi: 2.73, family: DEJAVU, size: 16, color: "#222", padX: 7, padY: 8, xTitle: 12, yTitle: 16, frame: true });
colorbar({ x0: 188, y0: 588, x1: 195, y1: 714, labelW: 52, lo: -2.25, hi: 2.73, ticks: barTicksZoomPhase, digits: 2, family: DEJAVU, size: 16, color: "#222", pad: 7, frame: true });
heatmap(zoomRadiusRows, { x0: 283, y0: 588, x1: 411, y1: 713, axisLeft: 52, axisBottom: 58, max: 3, ticks: ticksThree, lo: 0, hi: 0.43, family: DEJAVU, size: 16, color: "#222", padX: 7, padY: 6, xTitle: 12, yTitle: 16 });
colorbar({ x0: 413, y0: 588, x1: 421, y1: 713, labelW: 50, lo: 0, hi: 0.43, ticks: barTicksZoomRadius, digits: 2, family: DEJAVU, size: 16, color: "#222", pad: 6, frame: true });

// C
heatmap(signPhaseRows, { x0: 534, y0: 567, x1: 712, y1: 746, axisLeft: 56, axisBottom: 42, max: 5, ticks: ticksFive, lo: -1, hi: 1, family: LIBERATION, size: 17, color: "#555", padX: 9, padY: 14, yTitle: 18 });
heatmap(signRadiusRows, { x0: 778, y0: 567, x1: 957, y1: 746, axisLeft: 48, axisBottom: 42, max: 5, ticks: ticksFive, lo: -1, hi: 1, family: LIBERATION, size: 17, color: "#555", padX: 9, padY: 13 });

// D
heatmap(fractionPhaseRows, { x0: 43, y0: 871, x1: 399, y1: 1226, axisLeft: 30, axisBottom: 64, max: 5, halfCell: HALF_CELL, ticks: ticksFive, lo: 0, hi: 1, family: LIBERATION, size: 16, color: "#666", titleColor: "#333", padX: 14, padY: 12, yShift: -1, xTitle: 16 });
colorbar({ x0: 410, y0: 871, x1: 427, y1: 1226, labelW: 50, lo: 0, hi: 1, ticks: barTicksFraction, digits: 1, family: LIBERATION, size: 16, color: "#666", pad: 14 });
heatmap(fractionRadiusRows, { x0: 548, y0: 872, x1: 903, y1: 1227, axisLeft: 68, axisBottom: 63, max: 5, halfCell: HALF_CELL, ticks: ticksFive, lo: 0, hi: 1, family: LIBERATION, size: 16, color: "#666", titleColor: "#333", padX: 14, padY: 13, xShift: -2, xTitle: 16, yTitle: 20 });
colorbar({ x0: 915, y0: 872, x1: 931, y1: 1227, labelW: 37, lo: 0, hi: 1, ticks: barTicksFraction, digits: 1, family: LIBERATION, size: 16, color: "#666", pad: 14 });

// headings
text("A", 36, 31, 44);
text("mean, all cumulants", 476, 31, 36.6);
text("phase", 227, 66, 26, { color: "#333" });
text("radius", 715, 66, 26, { color: "#333" });
text("B", 27, 513, 41);
text("zoom into k,l\u2208 [0.0,3.0]", 247, 540, 26, { color: "#333" });
text("phase", 119, 572, 22, { color: "#333" });
text("radius", 342, 572, 22, { color: "#333" });
text("C", 494, 513, 41);
text("signum maps", 744, 526, 27, { color: "#333" });
text("phase", 617, 555, 22, { color: "#333" });
text("radius", 866, 555, 22, { color: "#333" });
text("D", 24, 804, 43, { clipPath: "inset(0 0 0 6px)" });
text("fraction > 95th percentile, all cumulants", 470, 812, 33.6, { color: "#111" });
text("phase", 216, 853, 25, { color: "#111" });
text("radius", 729, 855, 25, { color: "#111" });
</script>
</body>
</html>
